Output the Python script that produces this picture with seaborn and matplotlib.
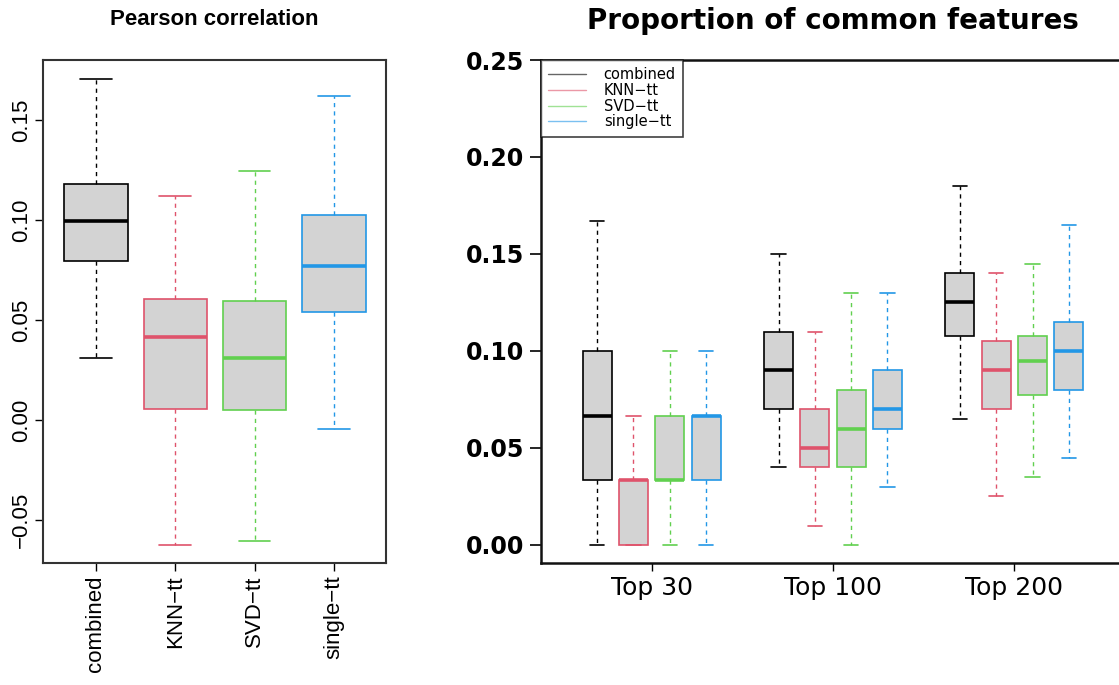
import numpy as np
import pandas as pd
import matplotlib
matplotlib.use("Agg")
import matplotlib.pyplot as plt
from matplotlib import font_manager
from matplotlib.lines import Line2D
import seaborn as sns

# ---------------------------------------------------------------
# datos: resúmenes de cinco números (min, Q1, mediana, Q3, max)
# ---------------------------------------------------------------
methods = ["combined", "KNN-tt", "SVD-tt", "single-tt"]
method_labels = ["combined", "KNN\u2212tt", "SVD\u2212tt", "single\u2212tt"]
method_colors = ["#000000", "#DF536B", "#61D04F", "#2297E6"]

# panel izquierdo: correlación de Pearson
pearson_combined = [0.031, 0.0795, 0.0995, 0.118, 0.1705]
pearson_knn = [-0.0625, 0.0055, 0.0415, 0.0605, 0.112]
pearson_svd = [-0.0605, 0.005, 0.031, 0.0595, 0.1245]
pearson_single = [-0.0045, 0.054, 0.077, 0.1025, 0.162]

# panel derecho: proporción de características comunes
groups = ["Top 30", "Top 100", "Top 200"]
common_combined = [[0.0, 0.0333, 0.0667, 0.10, 0.167],
                   [0.04, 0.07, 0.09, 0.11, 0.15],
                   [0.065, 0.1075, 0.125, 0.14, 0.185]]
common_knn = [[0.0, 0.0, 0.0333, 0.0333, 0.0667],
              [0.01, 0.04, 0.05, 0.07, 0.11],
              [0.025, 0.07, 0.09, 0.105, 0.14]]
common_svd = [[0.0, 0.0333, 0.0333, 0.0667, 0.10],
              [0.0, 0.04, 0.06, 0.08, 0.13],
              [0.035, 0.0775, 0.095, 0.1075, 0.145]]
common_single = [[0.0, 0.0333, 0.0667, 0.0667, 0.10],
                 [0.03, 0.06, 0.07, 0.09, 0.13],
                 [0.045, 0.08, 0.10, 0.115, 0.165]]

pearson = dict(zip(methods, [pearson_combined, pearson_knn, pearson_svd, pearson_single]))
common = dict(zip(methods, [common_combined, common_knn, common_svd, common_single]))

df_left = pd.DataFrame([(m, v) for m in methods for v in pearson[m]],
                       columns=["method", "value"])
df_right = pd.DataFrame([(m, g, v) for m in methods
                         for g, vals in zip(groups, common[m]) for v in vals],
                        columns=["method", "group", "value"])

# ---------------------------------------------------------------
# estilo
# ---------------------------------------------------------------
sns.set_theme(style="ticks")
plt.rcParams["font.family"] = ["Liberation Sans", "DejaVu Sans"]
plt.rcParams.update({"text.color": "black", "xtick.color": "black",
                     "ytick.color": "black", "axes.labelcolor": "black"})

installed = {f.name for f in font_manager.fontManager.ttflist}
if "Liberation Sans Narrow" in installed:
    title_font, title_size = "Liberation Sans Narrow", 17
elif "DejaVu Sans Condensed" in installed:
    title_font, title_size = "DejaVu Sans Condensed", 16
else:
    title_font, title_size = "Liberation Sans", 16

FILL = "#D3D3D3"
box_kw = dict(whis=(0, 100), linewidth=1.2,
              whiskerprops={"linestyle": (0, (3, 3)), "linewidth": 1.0},
              medianprops={"linewidth": 2.6})

fig = plt.figure(figsize=(11.19, 6.85), dpi=100)
ax1 = fig.add_axes([43 / 1119, 122 / 685, 343 / 1119, 503 / 685])
ax2 = fig.add_axes([541 / 1119, 122 / 685, 584 / 1119, 503 / 685])

# ---- panel izquierdo ----
for m, col in zip(methods, method_colors):
    sns.boxplot(data=df_left[df_left["method"] == m], x="method", y="value",
                order=methods, color=FILL, linecolor=col, width=0.8,
                ax=ax1, **box_kw)

ax1.set_xlim(-0.668, 3.657)
ax1.set_ylim(-0.0715, 0.18)
ax1.set_yticks([-0.05, 0.0, 0.05, 0.10, 0.15])
ax1.set_yticklabels(["\u22120.05", "0.00", "0.05", "0.10", "0.15"])
ax1.set_xticks(range(len(methods)))
ax1.set_xticklabels(method_labels)
ax1.tick_params(axis="y", labelrotation=90, labelsize=16, length=6, width=1, pad=2)
ax1.tick_params(axis="x", labelrotation=90, labelsize=16, length=6, width=1, pad=3)
for lbl in ax1.get_yticklabels():
    lbl.set_va("center")
ax1.set_xlabel("")
ax1.set_ylabel("")
for s in ax1.spines.values():
    s.set_visible(True)
    s.set_linewidth(1.5)
    s.set_color("#333333")
ax1.set_title("Pearson correlation", fontsize=title_size, fontweight="bold",
              family=title_font, pad=25)

# ---- panel derecho ----
for m, col in zip(methods, method_colors):
    sns.boxplot(data=df_right[df_right["method"] == m], x="group", y="value",
                hue="method", order=groups, hue_order=methods, dodge=True,
                palette={k: FILL for k in methods}, linecolor=col,
                width=0.8, gap=0.2, legend=False, ax=ax2, **box_kw)

ax2.set_xlim(-0.61, 2.61)
ax2.set_ylim(-0.0093, 0.25)
ax2.set_yticks([0.0, 0.05, 0.10, 0.15, 0.20, 0.25])
ax2.set_yticklabels(["0.00", "0.05", "0.10", "0.15", "0.20", "0.25"],
                    family="DejaVu Sans", fontweight="bold", fontsize=17)
ax2.set_xticks(range(len(groups)))
ax2.set_xticklabels(groups, family="DejaVu Sans", fontsize=18)
ax2.tick_params(axis="y", length=8, width=1.2, pad=4)
ax2.tick_params(axis="x", length=6, width=1, pad=3)
ax2.set_xlabel("")
ax2.set_ylabel("")
for side in ["left", "bottom", "top"]:
    ax2.spines[side].set_visible(True)
    ax2.spines[side].set_linewidth(1.8)
    ax2.spines[side].set_color("#111111")
ax2.spines["right"].set_visible(False)
ax2.set_title("Proportion of common features", fontsize=20, fontweight="bold",
              family="DejaVu Sans", pad=22)

handles = [Line2D([], [], color=c, linewidth=1.0, alpha=0.6) for c in method_colors]
leg = ax2.legend(handles, method_labels, loc="upper left",
                 bbox_to_anchor=(0.0, 1.0), borderaxespad=0.0,
                 frameon=True, fancybox=False, edgecolor="#111111",
                 prop={"family": "DejaVu Sans", "size": 10.5},
                 handlelength=2.6, handletextpad=1.2, labelspacing=0.05,
                 borderpad=0.5)
leg.get_frame().set_linewidth(1.2)

fig.savefig("out.png", dpi=100)
